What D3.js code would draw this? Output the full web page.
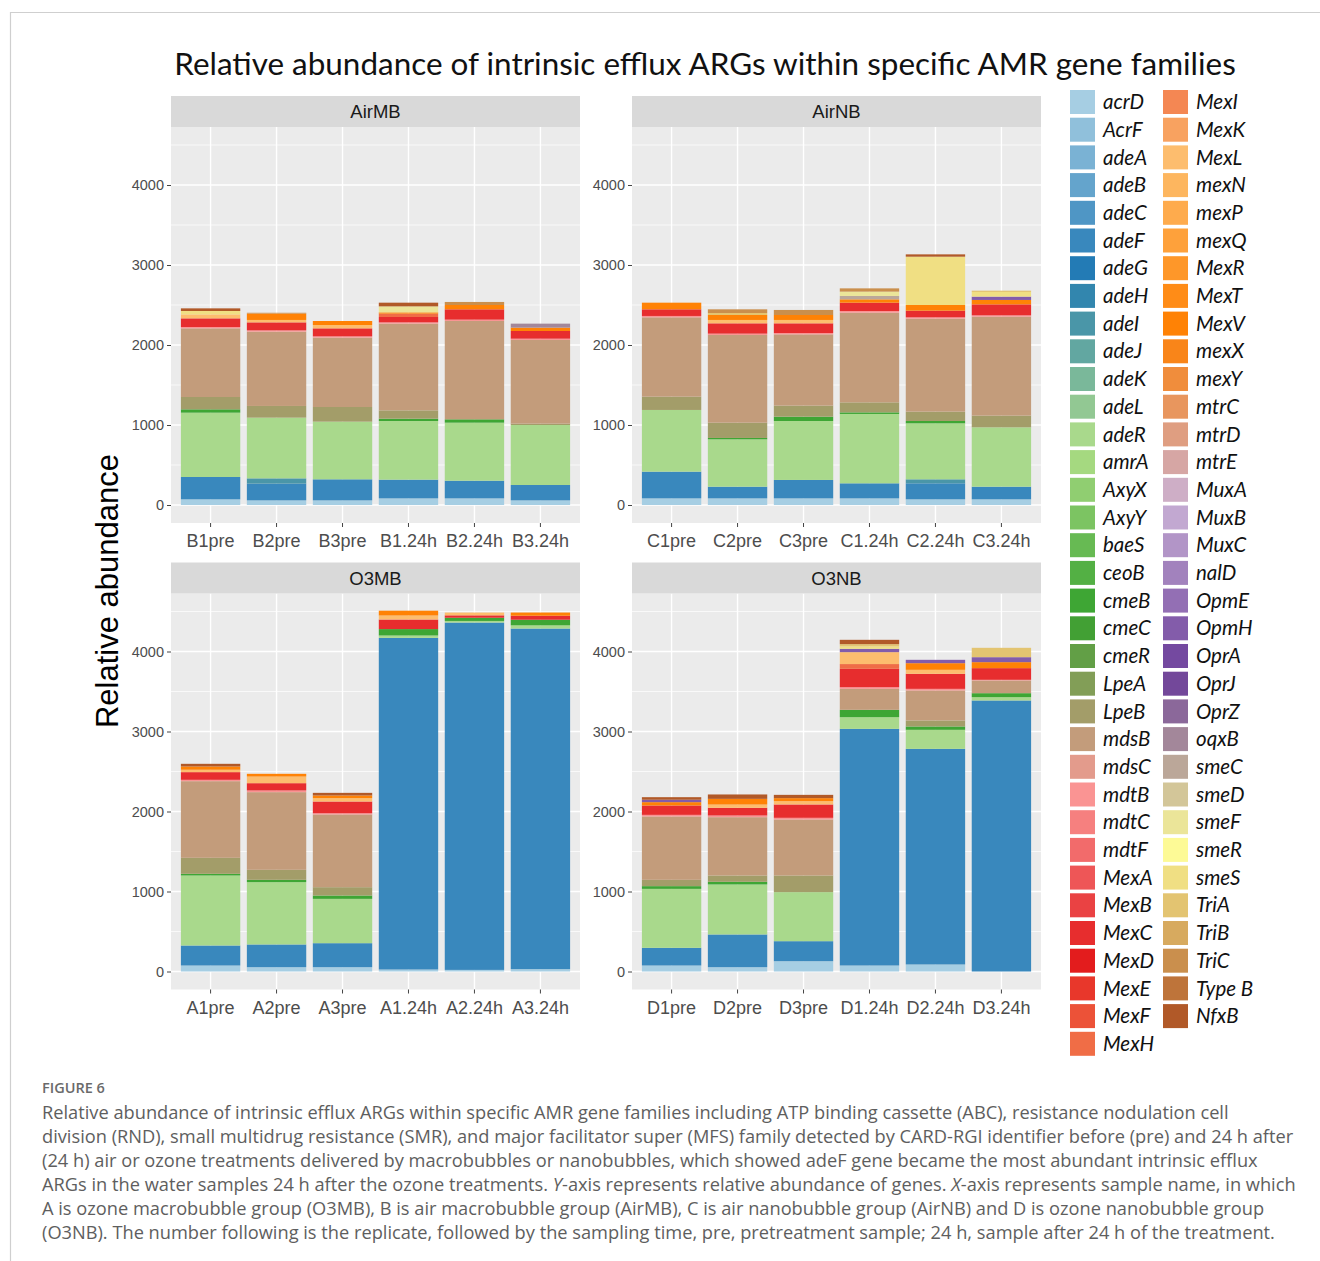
<!DOCTYPE html>
<html>
<head>
<meta charset="utf-8">
<script src="https://cdn.jsdelivr.net/npm/d3@7"></script>
<style>
  body { margin: 0; background: #fff; }
  svg { display: block; }
</style>
</head>
<body>
<svg id="fig" width="1320" height="1261"></svg>
<script>
// ---- sample names per facet ----
const samplesAirMB = ["B1pre", "B2pre", "B3pre", "B1.24h", "B2.24h", "B3.24h"];
const samplesAirNB = ["C1pre", "C2pre", "C3pre", "C1.24h", "C2.24h", "C3.24h"];
const samplesO3MB  = ["A1pre", "A2pre", "A3pre", "A1.24h", "A2.24h", "A3.24h"];
const samplesO3NB  = ["D1pre", "D2pre", "D3pre", "D1.24h", "D2.24h", "D3.24h"];
const facetNames   = ["AirMB", "AirNB", "O3MB", "O3NB"];

// ---- gene legend (stack order, bottom to top) ----
const genes = ["acrD", "AcrF", "adeA", "adeB", "adeC", "adeF", "adeG", "adeH", "adeI", "adeJ",
  "adeK", "adeL", "adeR", "amrA", "AxyX", "AxyY", "baeS", "ceoB", "cmeB", "cmeC", "cmeR",
  "LpeA", "LpeB", "mdsB", "mdsC", "mdtB", "mdtC", "mdtF", "MexA", "MexB", "MexC", "MexD",
  "MexE", "MexF", "MexH", "MexI", "MexK", "MexL", "mexN", "mexP", "mexQ", "MexR", "MexT",
  "MexV", "mexX", "mexY", "mtrC", "mtrD", "mtrE", "MuxA", "MuxB", "MuxC", "nalD", "OpmE",
  "OpmH", "OprA", "OprJ", "OprZ", "oqxB", "smeC", "smeD", "smeF", "smeR", "smeS", "TriA",
  "TriB", "TriC", "Type B", "NfxB"];

const yTicks = [0, 1000, 2000, 3000, 4000];

// ---- relative abundance per gene; order: B (AirMB), C (AirNB), A (O3MB), D (O3NB) ----
const acrD = [71, 58, 58, 83, 83, 58,   83, 83, 83, 83, 71, 71,   75, 54, 54, 25, 20, 30,   75, 54, 129, 75, 88, 0];
const adeF = [279, 209, 263, 234, 221, 192,   334, 146, 230, 188, 200, 158,   250, 284, 300, 4145, 4342, 4257,   221, 409, 250, 2958, 2695, 3388];
const adeI = [0, 66, 0, 0, 0, 0,   0, 0, 0, 0, 50, 0,   0, 0, 0, 0, 0, 0,   0, 0, 0, 0, 0, 0];
const adeR = [804, 759, 721, 733, 725, 750,   771, 592, 737, 867, 700, 742,   875, 779, 554, 30, 20, 40,   737, 625, 613, 146, 238, 41];
const cmeB = [42, 0, 0, 29, 42, 0,   0, 17, 54, 20, 29, 0,   21, 29, 42, 80, 40, 70,   34, 33, 0, 92, 42, 50];
const LpeB = [154, 146, 183, 104, 0, 17,   166, 191, 138, 125, 117, 146,   200, 125, 104, 0, 0, 0,   79, 79, 208, 0, 75, 0];
const mdsB = [858, 929, 867, 1084, 1229, 1046,   992, 1096, 891, 1121, 1162, 1237,   958, 971, 909, 0, 0, 0,   792, 729, 700, 262, 375, 159];
const mdtB = [17, 16, 16, 16, 17, 16,   17, 17, 17, 21, 17, 17,   17, 21, 16, 0, 0, 0,   20, 21, 21, 21, 20, 8];
const MexC = [108, 100, 100, 67, 129, 96,   83, 129, 121, 104, 83, 137,   96, 91, 146, 120, 30, 50,   117, 96, 167, 229, 188, 146];
const MexH = [0, 0, 0, 42, 0, 0,   0, 0, 0, 0, 0, 0,   0, 0, 0, 0, 0, 0,   0, 0, 0, 60, 0, 0];
const MexL = [50, 30, 42, 0, 0, 0,   0, 42, 42, 0, 0, 0,   30, 83, 42, 50, 35, 0,   0, 41, 42, 149, 50, 0];
const MexV = [0, 80, 50, 16, 54, 42,   83, 62, 62, 42, 71, 55,   41, 34, 33, 60, 0, 40,   42, 71, 37, 0, 83, 75];
const OpmH = [0, 0, 0, 0, 0, 0,   0, 0, 0, 0, 0, 42,   0, 0, 0, 0, 0, 0,   30, 0, 0, 42, 42, 62];
const oqxB = [0, 0, 0, 0, 0, 50,   0, 0, 0, 0, 0, 0,   0, 0, 0, 0, 0, 0,   0, 0, 0, 0, 0, 0];
const smeC = [0, 0, 0, 0, 0, 0,   0, 0, 0, 42, 0, 0,   0, 0, 0, 0, 0, 0,   0, 0, 0, 0, 0, 0];
const smeF = [0, 0, 0, 75, 0, 0,   0, 0, 0, 54, 0, 0,   0, 0, 0, 0, 0, 0,   0, 0, 0, 0, 0, 0];
const smeS = [42, 0, 0, 0, 0, 0,   0, 0, 0, 0, 604, 58,   0, 0, 0, 0, 0, 0,   0, 0, 0, 29, 0, 0];
const TriA = [0, 0, 0, 0, 0, 0,   0, 25, 0, 0, 0, 16,   0, 0, 0, 0, 0, 0,   0, 0, 0, 29, 0, 117];
const TriC = [0, 10, 0, 0, 38, 0,   0, 46, 63, 41, 0, 0,   0, 0, 0, 0, 0, 0,   0, 0, 0, 0, 0, 0];
const NfxB = [33, 0, 0, 46, 0, 0,   0, 0, 0, 0, 29, 0,   33, 0, 33, 0, 0, 0,   32, 55, 41, 54, 0, 0];

const series = [["acrD", acrD], ["adeF", adeF], ["adeI", adeI], ["adeR", adeR], ["cmeB", cmeB],
  ["LpeB", LpeB], ["mdsB", mdsB], ["mdtB", mdtB], ["MexC", MexC], ["MexH", MexH], ["MexL", MexL],
  ["MexV", MexV], ["OpmH", OpmH], ["oqxB", oqxB], ["smeC", smeC], ["smeF", smeF], ["smeS", smeS],
  ["TriA", TriA], ["TriC", TriC], ["NfxB", NfxB]];

const caption = [
  "Relative abundance of intrinsic efflux ARGs within specific AMR gene families including ATP binding cassette (ABC), resistance nodulation cell",
  "division (RND), small multidrug resistance (SMR), and major facilitator super (MFS) family detected by CARD-RGI identifier before (pre) and 24 h after",
  "(24 h) air or ozone treatments delivered by macrobubbles or nanobubbles, which showed adeF gene became the most abundant intrinsic efflux",
  "ARGs in the water samples 24 h after the ozone treatments. |Y|-axis represents relative abundance of genes. |X|-axis represents sample name, in which",
  "A is ozone macrobubble group (O3MB), B is air macrobubble group (AirMB), C is air nanobubble group (AirNB) and D is ozone nanobubble group",
  "(O3NB). The number following is the replicate, followed by the sampling time, pre, pretreatment sample; 24 h, sample after 24 h of the treatment."
];

// ---- build the table of stacked rows ----
const allSamples = [...samplesAirMB, ...samplesAirNB, ...samplesO3MB, ...samplesO3NB];
const facetOf = {};
[samplesAirMB, samplesAirNB, samplesO3MB, samplesO3NB].forEach((s, i) => s.forEach(n => facetOf[n] = facetNames[i]));
const rows = allSamples.map((s, i) => {
  const r = { sample: s, facet: facetOf[s] };
  series.forEach(([g, vals]) => { r[g] = vals[i]; });
  return r;
});
const stacked = d3.stack().keys(genes).value((d, k) => d[k] || 0)(rows);

// colour ramp through the Paired palette
const paired = ["#a6cee3", "#1f78b4", "#b2df8a", "#33a02c", "#fb9a99", "#e31a1c",
                "#fdbf6f", "#ff7f00", "#cab2d6", "#6a3d9a", "#ffff99", "#b15928"];
const ramp = d3.piecewise(d3.interpolateRgb, paired);
const color = d3.scaleOrdinal().domain(genes).range(genes.map((g, i) => ramp(i / (genes.length - 1))));

const svg = d3.select("#fig");
svg.append("rect").attr("width", 1320).attr("height", 1261).attr("fill", "#fff");

// page frame
svg.append("line").attr("x1", 10).attr("x2", 1320).attr("y1", 12.5).attr("y2", 12.5)
  .attr("stroke", "#cfcfcf").attr("stroke-width", 1.2);
svg.append("line").attr("x1", 10.5).attr("x2", 10.5).attr("y1", 12).attr("y2", 1261)
  .attr("stroke", "#cfcfcf").attr("stroke-width", 1.2);

// title
const title = svg.append("text")
  .attr("x", 705).attr("y", 75)
  .attr("text-anchor", "middle")
  .style("font-family", "Lato, 'Open Sans', sans-serif")
  .style("font-size", "32px").attr("fill", "#111")
  .text("Relative abundance of intrinsic efflux ARGs within specific AMR gene families");
{
  const w = title.node().getComputedTextLength();
  title.style("font-size", (32 * 1062 / w) + "px");
}

// ---- facet panels ----
const panelW = 409, panelH = 396, stripH = 31;
const layout = {
  AirMB: { x: 171, y: 127, samples: samplesAirMB },
  AirNB: { x: 632, y: 127, samples: samplesAirNB },
  O3MB:  { x: 171, y: 593.5, samples: samplesO3MB },
  O3NB:  { x: 632, y: 593.5, samples: samplesO3NB }
};
const axisFont = "'Liberation Sans', Arial, sans-serif";

facetNames.forEach(name => {
  const L = layout[name];
  const g = svg.append("g").attr("transform", `translate(${L.x},${L.y})`);
  const x = d3.scaleBand().domain(L.samples).range([0, panelW]).paddingInner(0.1).paddingOuter(0.15);
  const y = d3.scaleLinear().domain([-225, 4725]).range([panelH, 0]);

  // background and grid
  g.append("rect").attr("width", panelW).attr("height", panelH).attr("fill", "#ebebeb");
  const minor = d3.range(500, 4725, 1000);
  g.selectAll(".minor").data(minor).join("line")
    .attr("x1", 0).attr("x2", panelW).attr("y1", d => y(d)).attr("y2", d => y(d))
    .attr("stroke", "#fff").attr("stroke-width", 0.7);
  g.selectAll(".major").data(yTicks).join("line")
    .attr("x1", 0).attr("x2", panelW).attr("y1", d => y(d)).attr("y2", d => y(d))
    .attr("stroke", "#fff").attr("stroke-width", 1.4);
  g.selectAll(".vmajor").data(L.samples).join("line")
    .attr("x1", d => x(d) + x.bandwidth() / 2).attr("x2", d => x(d) + x.bandwidth() / 2)
    .attr("y1", 0).attr("y2", panelH)
    .attr("stroke", "#fff").attr("stroke-width", 1.4);

  // stacked bars
  stacked.forEach(layer => {
    const pts = layer.filter(d => d.data.facet === name && d[1] - d[0] > 0);
    g.selectAll(null).data(pts).join("rect")
      .attr("x", d => x(d.data.sample))
      .attr("width", x.bandwidth())
      .attr("y", d => y(d[1]))
      .attr("height", d => y(d[0]) - y(d[1]))
      .attr("fill", color(layer.key));
  });

  // strip
  svg.append("rect").attr("x", L.x).attr("y", L.y - stripH).attr("width", panelW).attr("height", stripH)
    .attr("fill", "#d9d9d9");
  svg.append("text").attr("x", L.x + panelW / 2).attr("y", L.y - stripH / 2)
    .attr("dy", "0.36em").attr("text-anchor", "middle")
    .style("font-family", axisFont).style("font-size", "18.5px").attr("fill", "#1a1a1a")
    .text(name);

  // axes
  const ya = g.append("g").call(d3.axisLeft(y).tickValues(yTicks).tickFormat(d3.format("d"))
    .tickSize(4).tickPadding(3));
  const xa = g.append("g").attr("transform", `translate(0,${panelH})`)
    .call(d3.axisBottom(x).tickSize(4).tickPadding(name.startsWith("O3") ? 7.5 : 7.5));
  [ya, xa].forEach(a => {
    a.select(".domain").remove();
    a.selectAll(".tick line").attr("stroke", "#444");
    a.selectAll("text").attr("fill", "#4d4d4d").style("font-family", axisFont);
  });
  ya.selectAll("text").style("font-size", "14.5px");
  xa.selectAll("text").style("font-size", "18px");
});

// y-axis title
svg.append("text")
  .attr("transform", "translate(118,591) rotate(-90)")
  .attr("text-anchor", "middle")
  .style("font-family", axisFont).style("font-size", "31px").attr("fill", "#000")
  .text("Relative abundance");

// ---- legend ----
const legendCols = [genes.slice(0, 35), genes.slice(35)];
const colX = [1070, 1163];
legendCols.forEach((col, ci) => {
  const lg = svg.append("g");
  col.forEach((gname, i) => {
    const cy = 102 + 27.7 * i;
    lg.append("rect").attr("x", colX[ci]).attr("y", cy - 12).attr("width", 25).attr("height", 24)
      .attr("fill", color(gname));
    lg.append("text").attr("x", colX[ci] + 33).attr("y", cy).attr("dy", "0.35em")
      .style("font-family", "Lato, 'Open Sans', sans-serif").style("font-style", "italic")
      .style("font-size", "20.5px").attr("fill", "#111")
      .text(gname);
  });
});

// ---- caption ----
svg.append("text").attr("x", 42).attr("y", 1093)
  .style("font-family", "'Open Sans', sans-serif").style("font-size", "14.5px")
  .style("font-weight", 600).attr("fill", "#6a6a6a")
  .text("FIGURE 6");

const capG = svg.append("g").style("font-family", "'Open Sans', sans-serif").attr("fill", "#5e5e5e");
const capLines = caption.map((line, i) => {
  const t = capG.append("text").attr("x", 42).attr("y", 1119 + 24 * i).style("font-size", "16px");
  line.split("|").forEach((part, j) => {
    t.append("tspan").style("font-style", j % 2 ? "italic" : "normal").text(part);
  });
  return t;
});
{
  const w = capLines[1].node().getComputedTextLength();
  const fs = 16 * 1252 / w;
  capLines.forEach(t => t.style("font-size", fs + "px"));
}
</script>
</body>
</html>
